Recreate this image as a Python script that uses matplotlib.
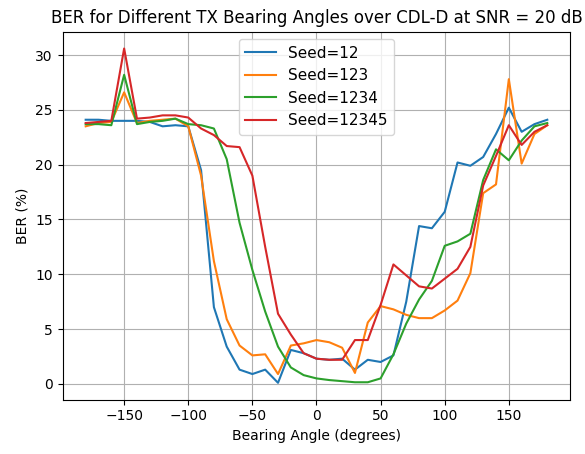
import matplotlib
matplotlib.use("Agg")
import matplotlib.pyplot as plt
import numpy as np

angles = list(range(-180, 181, 10))
blue = [24.1,24.1,24.0,24.0,24.0,23.9,23.5,23.6,23.5,19.5,7.0,3.4,1.3,0.9,1.3,0.1,3.1,2.8,2.3,2.2,2.3,1.3,2.2,2.0,2.6,7.5,14.4,14.2,15.7,20.2,19.9,20.7,22.8,25.2,23.0,23.7,24.1]
orange = [23.5,23.8,23.9,26.6,23.8,24.0,24.1,24.2,23.5,19.0,11.2,5.9,3.5,2.6,2.7,0.9,3.5,3.7,4.0,3.8,3.3,1.0,5.6,7.1,6.8,6.3,6.0,6.0,6.7,7.6,10.1,17.4,18.2,27.8,20.1,22.8,23.6]
green = [23.7,23.7,23.6,28.2,23.7,23.9,24.0,24.2,23.7,23.6,23.3,20.5,14.7,10.4,6.6,3.4,1.5,0.8,0.5,0.35,0.25,0.15,0.15,0.5,2.7,5.5,7.7,9.4,12.6,13.0,13.7,18.6,21.4,20.4,22.2,23.5,23.8]
red = [23.8,23.9,24.0,30.6,24.2,24.3,24.5,24.5,24.3,23.3,22.7,21.7,21.6,19.0,12.5,6.4,4.5,2.8,2.3,2.2,2.2,4.0,4.0,7.2,10.9,9.9,8.9,8.7,9.6,10.5,12.5,18.1,20.8,23.6,21.8,23.0,23.6]
labels = ["Seed=12", "Seed=123", "Seed=1234", "Seed=12345"]

fig, ax = plt.subplots(figsize=(5.85, 4.54), dpi=100)
for s, l in zip([blue, orange, green, red], labels):
    ax.plot(angles, s, label=l)
ax.set_title("BER for Different TX Bearing Angles over CDL-D at SNR = 20 dB")
ax.set_xlabel("Bearing Angle (degrees)")
ax.set_ylabel("BER (%)")
ax.set_xticks([-150, -100, -50, 0, 50, 100, 150])
ax.grid(True)
ax.legend(loc="upper center", fontsize=11)
fig.subplots_adjust(left=0.107, right=0.975, top=0.93, bottom=0.12)
fig.savefig("out.png")
